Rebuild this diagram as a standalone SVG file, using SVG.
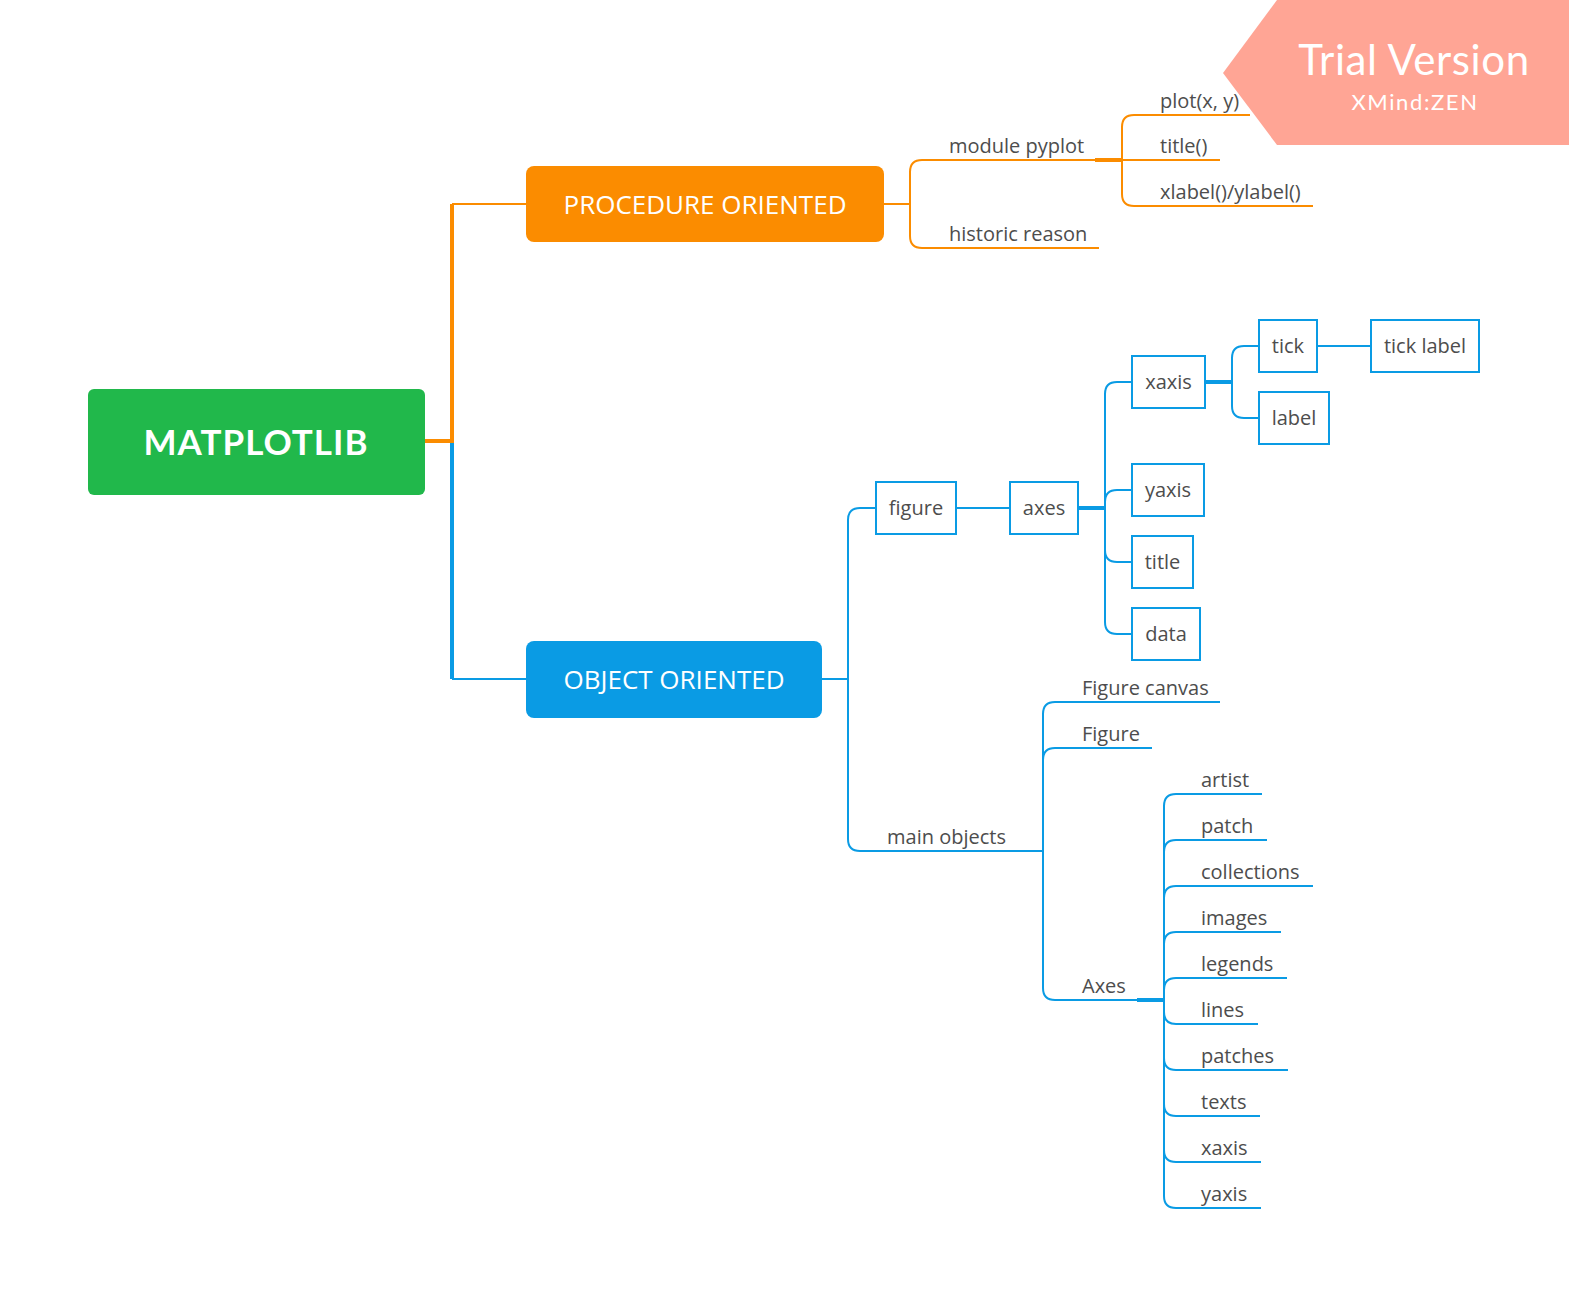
<svg xmlns="http://www.w3.org/2000/svg" width="1569" height="1297" viewBox="0 0 1569 1297">
<style>
.o{fill:none;stroke:#FB8C00;stroke-width:2}
.b{fill:none;stroke:#0A9BE4;stroke-width:2}
.ot{fill:none;stroke:#FB8C00;stroke-width:4}
.bt{fill:none;stroke:#0A9BE4;stroke-width:4}
.lbl{font-family:"Open Sans","Liberation Sans",sans-serif;font-size:20px;fill:#4D4D4D}
.box{fill:#fff;stroke:#0A9BE4;stroke-width:2}
.c{text-anchor:middle}
.main{font-family:"Open Sans","Liberation Sans",sans-serif;font-size:26px;fill:#fff;text-anchor:middle}
</style>
<rect width="1569" height="1297" fill="#fff"/>
<g id="connectors">
<path class="ot" d="M425 441 H452 V204"/>
<path class="bt" d="M452 443 V679"/>
<path class="o" d="M452 204 H526"/>
<path class="b" d="M452 679 H526"/>
<path class="o" d="M884 204 H910"/>
<path class="o" d="M910 204 V172 Q910 160 922 160 H1095"/>
<path class="o" d="M910 204 V236 Q910 248 922 248 H1099"/>
<path class="ot" d="M1095 160 H1122"/>
<path class="o" d="M1122 160 V127 Q1122 115 1134 115 H1250"/>
<path class="o" d="M1122 160 H1220"/>
<path class="o" d="M1122 160 V194 Q1122 206 1134 206 H1313"/>
<path class="b" d="M822 679 H848"/>
<path class="b" d="M848 679 V520 Q848 508 860 508 H876"/>
<path class="b" d="M848 679 V839 Q848 851 860 851 H1043"/>
<path class="b" d="M956 508 H1010"/>
<path class="bt" d="M1078 508 H1105"/>
<path class="b" d="M1105 508 V394 Q1105 382 1117 382 H1132"/>
<path class="b" d="M1105 508 V502 Q1105 490 1117 490 H1132"/>
<path class="b" d="M1105 508 V550 Q1105 562 1117 562 H1132"/>
<path class="b" d="M1105 508 V622 Q1105 634 1117 634 H1132"/>
<path class="bt" d="M1205 382 H1232"/>
<path class="b" d="M1232 382 V358 Q1232 346 1244 346 H1259"/>
<path class="b" d="M1232 382 V406 Q1232 418 1244 418 H1259"/>
<path class="b" d="M1318 346 H1371"/>
<path class="b" d="M1043 851 V714 Q1043 702 1055 702 H1220"/>
<path class="b" d="M1043 851 V760 Q1043 748 1055 748 H1152"/>
<path class="b" d="M1043 851 V988 Q1043 1000 1055 1000 H1137"/>
<path class="bt" d="M1137 1000 H1164"/>
<path class="b" d="M1164 1000 V806 Q1164 794 1176 794 H1262"/>
<path class="b" d="M1164 1000 V852 Q1164 840 1176 840 H1267"/>
<path class="b" d="M1164 1000 V898 Q1164 886 1176 886 H1313"/>
<path class="b" d="M1164 1000 V944 Q1164 932 1176 932 H1281"/>
<path class="b" d="M1164 1000 V990 Q1164 978 1176 978 H1287"/>
<path class="b" d="M1164 1000 V1012 Q1164 1024 1176 1024 H1258"/>
<path class="b" d="M1164 1000 V1058 Q1164 1070 1176 1070 H1288"/>
<path class="b" d="M1164 1000 V1104 Q1164 1116 1176 1116 H1260"/>
<path class="b" d="M1164 1000 V1150 Q1164 1162 1176 1162 H1261"/>
<path class="b" d="M1164 1000 V1196 Q1164 1208 1176 1208 H1261"/>
</g>
<g id="root">
<rect x="88" y="389" width="337" height="106" rx="6" fill="#21B84B"/>
<text x="256" y="455" font-family="Lato,'Open Sans',sans-serif" font-weight="bold" font-size="35" letter-spacing="1" fill="#fff" text-anchor="middle">MATPLOTLIB</text>
</g>
<g id="procedure">
<rect x="526" y="166" width="358" height="76" rx="8" fill="#FB8C00"/>
<text class="main" x="705" y="214">PROCEDURE ORIENTED</text>
</g>
<g id="object">
<rect x="526" y="641" width="296" height="77" rx="8" fill="#0A9BE4"/>
<text class="main" x="674" y="689">OBJECT ORIENTED</text>
</g>
<g id="module-pyplot"><text class="lbl" x="949" y="153">module pyplot</text></g>
<g id="historic-reason"><text class="lbl" x="949" y="241">historic reason</text></g>
<g id="plot"><text class="lbl" x="1160" y="108">plot(x, y)</text></g>
<g id="title-fn"><text class="lbl" x="1160" y="153">title()</text></g>
<g id="xlabel"><text class="lbl" x="1160" y="199">xlabel()/ylabel()</text></g>
<g id="figure"><rect class="box" x="876" y="482" width="80" height="52"/><text class="lbl c" x="916" y="515">figure</text></g>
<g id="axes"><rect class="box" x="1010" y="482" width="68" height="52"/><text class="lbl c" x="1044" y="515">axes</text></g>
<g id="xaxis"><rect class="box" x="1132" y="356" width="73" height="52"/><text class="lbl c" x="1168.5" y="389">xaxis</text></g>
<g id="yaxis"><rect class="box" x="1132" y="464" width="72" height="52"/><text class="lbl c" x="1168" y="497">yaxis</text></g>
<g id="title"><rect class="box" x="1132" y="536" width="61" height="52"/><text class="lbl c" x="1162.5" y="569">title</text></g>
<g id="data"><rect class="box" x="1132" y="608" width="68" height="52"/><text class="lbl c" x="1166" y="641">data</text></g>
<g id="tick"><rect class="box" x="1259" y="320" width="58" height="52"/><text class="lbl c" x="1288" y="353">tick</text></g>
<g id="label"><rect class="box" x="1259" y="392" width="70" height="52"/><text class="lbl c" x="1294" y="425">label</text></g>
<g id="tick-label"><rect class="box" x="1371" y="320" width="108" height="52"/><text class="lbl c" x="1425" y="353">tick label</text></g>
<g id="main-objects"><text class="lbl" x="887" y="844">main objects</text></g>
<g id="figure-canvas"><text class="lbl" x="1082" y="695">Figure canvas</text></g>
<g id="Figure"><text class="lbl" x="1082" y="741">Figure</text></g>
<g id="Axes"><text class="lbl" x="1082" y="993">Axes</text></g>
<g id="artist"><text class="lbl" x="1201" y="787">artist</text></g>
<g id="patch"><text class="lbl" x="1201" y="833">patch</text></g>
<g id="collections"><text class="lbl" x="1201" y="879">collections</text></g>
<g id="images"><text class="lbl" x="1201" y="925">images</text></g>
<g id="legends"><text class="lbl" x="1201" y="971">legends</text></g>
<g id="lines"><text class="lbl" x="1201" y="1017">lines</text></g>
<g id="patches"><text class="lbl" x="1201" y="1063">patches</text></g>
<g id="texts"><text class="lbl" x="1201" y="1109">texts</text></g>
<g id="xaxis2"><text class="lbl" x="1201" y="1155">xaxis</text></g>
<g id="yaxis2"><text class="lbl" x="1201" y="1201">yaxis</text></g>
<g id="watermark">
<polygon points="1277,0 1569,0 1569,145 1277,145 1223,73" fill="#FFA595"/>
<text x="1414" y="75" font-family="Lato,'Open Sans',sans-serif" font-size="42" letter-spacing="0.6" fill="#fff" text-anchor="middle">Trial Version</text>
<text x="1415" y="110" font-family="Lato,'Open Sans',sans-serif" font-size="22" letter-spacing="1.6" fill="#fff" text-anchor="middle">XMind:ZEN</text>
</g>
</svg>
